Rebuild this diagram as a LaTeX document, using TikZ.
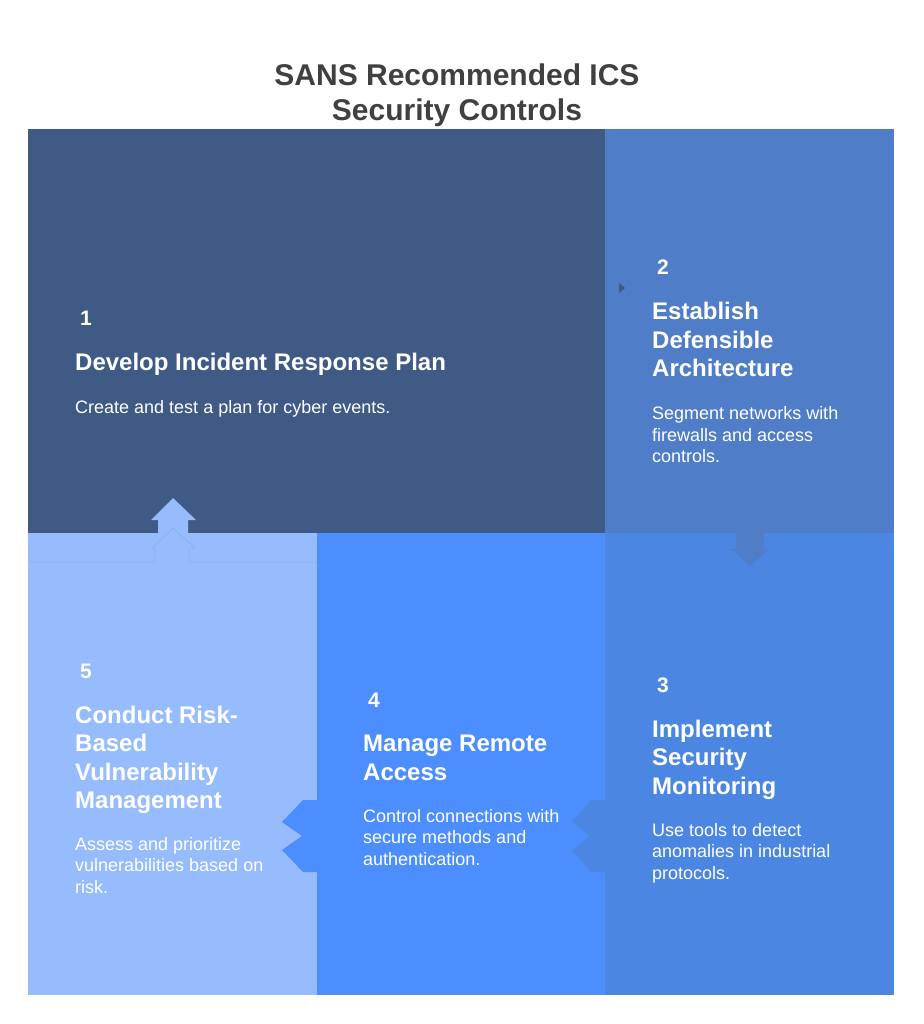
\documentclass[tikz,border=0pt]{standalone}
\usepackage{fontspec}
\setmainfont{Liberation Sans}

\definecolor{titlegray}{HTML}{404040}
\definecolor{stepone}{HTML}{3F5A85}
\definecolor{steptwo}{HTML}{4F7DC7}
\definecolor{stepthree}{HTML}{4B87E2}
\definecolor{stepfour}{HTML}{4D8EFE}
\definecolor{stepfive}{HTML}{96BCFE}

\begin{document}
\begin{tikzpicture}[
    x=1pt, y=-1pt,
    title/.style={anchor=base, inner sep=0pt, align=center, text=titlegray, font=\fontsize{30}{35}\selectfont\bfseries},
    number/.style={anchor=base west, inner sep=0pt, text=white, font=\fontsize{21}{25}\selectfont\bfseries},
    heading/.style={anchor=base west, inner sep=0pt, align=left, text=white, font=\fontsize{24}{28.5}\selectfont\bfseries},
    detail/.style={anchor=base west, inner sep=0pt, align=left, text=white, font=\fontsize{18}{21.5}\selectfont},
    faint/.style={draw=stepone!10!stepfive, line width=0.8pt}
]
\useasboundingbox (0,0) rectangle (923,1024);

% Title (base = last line)
\node[title] (title) at (457,121) {SANS Recommended ICS\\Security Controls};

% Panels
\fill[stepone] (28,129) rectangle (605,533);
\fill[steptwo] (605,129) rectangle (894,533);
\fill[stepthree] (605,533) rectangle (894,995);
\fill[stepfour] (317,533) rectangle (605,995);
\fill[stepfive] (28,533) rectangle (317,995);

% Arrows between panels
\fill[stepone] (619,283) -- (625,288) -- (619,293) -- cycle;
\fill[steptwo] (736,533) -- (736,549) -- (731,549) -- (750,566) -- (769,549) -- (764,549) -- (764,533) -- cycle;
\fill[stepthree] (605,800) -- (591,800) -- (572,822) -- (590,836) -- (572,850) -- (591,872) -- (605,872) -- cycle;
\fill[stepfour] (317,800) -- (303,800) -- (282,822) -- (302,836) -- (282,850) -- (303,872) -- (317,872) -- cycle;
\fill[stepfive] (158,533) -- (158,520) -- (151,520) -- (173,498) -- (196,520) -- (188,520) -- (188,533) -- cycle;
\draw[faint] (28,562) -- (155,562) -- (155,548) -- (152,548) -- (173,528) -- (195,548) -- (189,548) -- (189,562) -- (317,562);

% Step 1 (multi-line nodes sit on their last baseline)
\node[number] (num1) at (80,325.5) {1};
\node[heading] (head1) at (75,370.5) {Develop Incident Response Plan};
\node[detail] (body1) at (75,413.5) {Create and test a plan for cyber events.};

% Step 2
\node[number] (num2) at (657,274.5) {2};
\node[heading] (head2) at (652,376.5) {Establish\\Defensible\\Architecture};
\node[detail] (body2) at (652,462.5) {Segment networks with\\firewalls and access\\controls.};

% Step 3
\node[number] (num3) at (657,692.5) {3};
\node[heading] (head3) at (652,794) {Implement\\Security\\Monitoring};
\node[detail] (body3) at (652,879) {Use tools to detect\\anomalies in industrial\\protocols.};

% Step 4
\node[number] (num4) at (368,707.5) {4};
\node[heading] (head4) at (363,780) {Manage Remote\\Access};
\node[detail] (body4) at (363,865) {Control connections with\\secure methods and\\authentication.};

% Step 5
\node[number] (num5) at (80,678) {5};
\node[heading] (head5) at (75,808.5) {Conduct Risk-\\Based\\Vulnerability\\Management};
\node[detail] (body5) at (75,893) {Assess and prioritize\\vulnerabilities based on\\risk.};

\end{tikzpicture}
\end{document}
